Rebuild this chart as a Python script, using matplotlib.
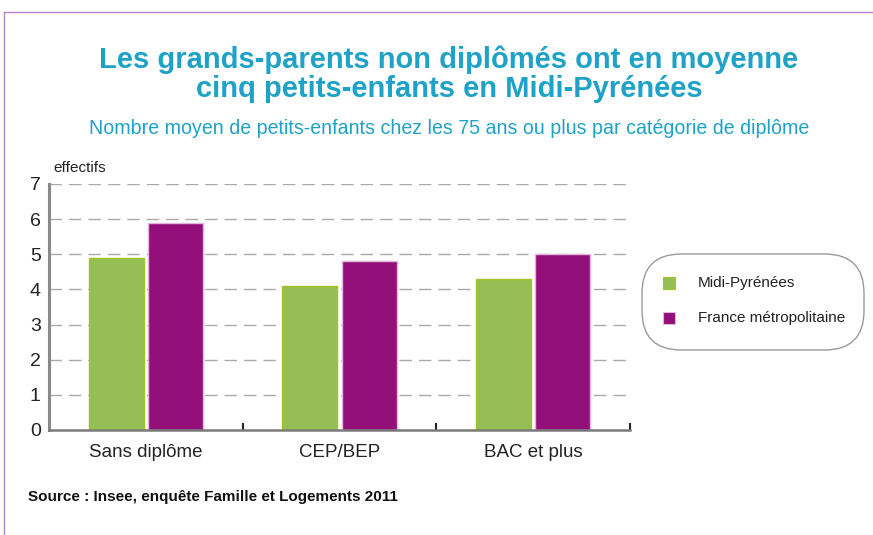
import matplotlib
matplotlib.use("Agg")
import matplotlib.pyplot as plt
from matplotlib.patches import FancyBboxPatch, Rectangle
from matplotlib.lines import Line2D
import numpy as np

categories = ["Sans diplôme", "CEP/BEP", "BAC et plus"]
midi = [4.9, 4.1, 4.3]
france = [5.9, 4.8, 5.0]
series_names = ["Midi-Pyrénées", "France métropolitaine"]
yticks = [0, 1, 2, 3, 4, 5, 6, 7]

title = "Les grands-parents non diplômés ont en moyenne\ncinq petits-enfants en Midi-Pyrénées"
subtitle = "Nombre moyen de petits-enfants chez les 75 ans ou plus par catégorie de diplôme"
source = "Source : Insee, enquête Famille et Logements 2011"

NARROW = ["Liberation Sans", "DejaVu Sans"]
BOLD = ["Liberation Sans", "DejaVu Sans"]

green = "#95bf55"
green_edge = "#a3c424"
purple = "#93107a"
purple_edge = "#e2b6d8"
title_col = "#1ea2c8"

W, H = 873, 535
fig = plt.figure(figsize=(W / 100, H / 100), dpi=100)

def fx(px):
    return px / W

def fy(py):
    return 1 - py / H

# frame lines (top and left)
fig.add_artist(Line2D([fx(4), 1], [fy(12), fy(12)], color="#b784c8", lw=1.0))
fig.add_artist(Line2D([fx(4), fx(4)], [fy(12), 0], color="#b784c8", lw=1.0))

ax = fig.add_axes([fx(49), fy(430), fx(630) - fx(49), fy(184) - fy(430)])

x = np.arange(len(categories))
bw = 0.283
off = 0.153
ax.bar(x - off, midi, bw, color=green, edgecolor=green_edge, linewidth=1.0, zorder=3, label=series_names[0])
ax.bar(x + off, france, bw, color=purple, edgecolor=purple_edge, linewidth=1.0, zorder=3, label=series_names[1])

ax.set_xlim(-0.5, 2.5)
ax.set_ylim(0, 7)
ax.set_yticks(yticks)
ax.set_yticklabels([str(v) for v in yticks], fontfamily=NARROW, fontsize=14, color="#222222")
ax.tick_params(axis="y", length=0, pad=6)
ax.set_xticks(x)
ax.set_xticklabels(categories, fontfamily=NARROW, fontsize=13.5, color="#222222")
ax.tick_params(axis="x", length=0, pad=10)
ax.set_xticks([0.5, 1.5, 2.5], minor=True)
ax.tick_params(axis="x", which="minor", direction="in", length=5, width=1.5, color="#222222")

for v in yticks[1:]:
    ax.axhline(v, color="#aaaaaa", lw=1.0, ls=(0, (9, 5)), zorder=1)

for s in ["top", "right"]:
    ax.spines[s].set_visible(False)
ax.spines["left"].set_color("#8a8a8a")
ax.spines["left"].set_linewidth(2.2)
ax.spines["bottom"].set_color("#7a7a7a")
ax.spines["bottom"].set_linewidth(1.8)
ax.spines["bottom"].set_zorder(4)

fig.text(fx(53), fy(168), "effectifs", fontfamily=NARROW, fontsize=11, color="#222222", va="center", ha="left")

fig.text(fx(449), fy(74), title, fontfamily=BOLD, fontweight="bold", fontsize=21, color=title_col,
         ha="center", va="center", linespacing=1.05)
fig.text(fx(449), fy(128), subtitle, fontfamily=NARROW, fontsize=14.1, color=title_col, ha="center", va="center")

fig.text(fx(28), fy(497), source, fontfamily=NARROW, fontweight="bold", fontsize=11, color="#111111",
         ha="left", va="center")

# legend box
box = FancyBboxPatch((fx(642), fy(350)), fx(864) - fx(642), fy(254) - fy(350),
                     boxstyle="round,pad=0,rounding_size=0.045", transform=fig.transFigure,
                     facecolor="white", edgecolor="#9a9a9a", lw=1.0, mutation_aspect=W / H)
fig.add_artist(box)
sq = 12
for i, (name, col, ec) in enumerate(zip(series_names, [green, purple], [green_edge, purple_edge])):
    yc = [283, 318][i]
    fig.add_artist(Rectangle((fx(663), fy(yc + sq / 2)), fx(sq), sq / H, transform=fig.transFigure,
                             facecolor=col, edgecolor=ec, lw=0.8))
    fig.text(fx(698), fy(yc), name, fontfamily=NARROW, fontsize=11, color="#222222", va="center", ha="left")

fig.savefig("out.png", dpi=100)
